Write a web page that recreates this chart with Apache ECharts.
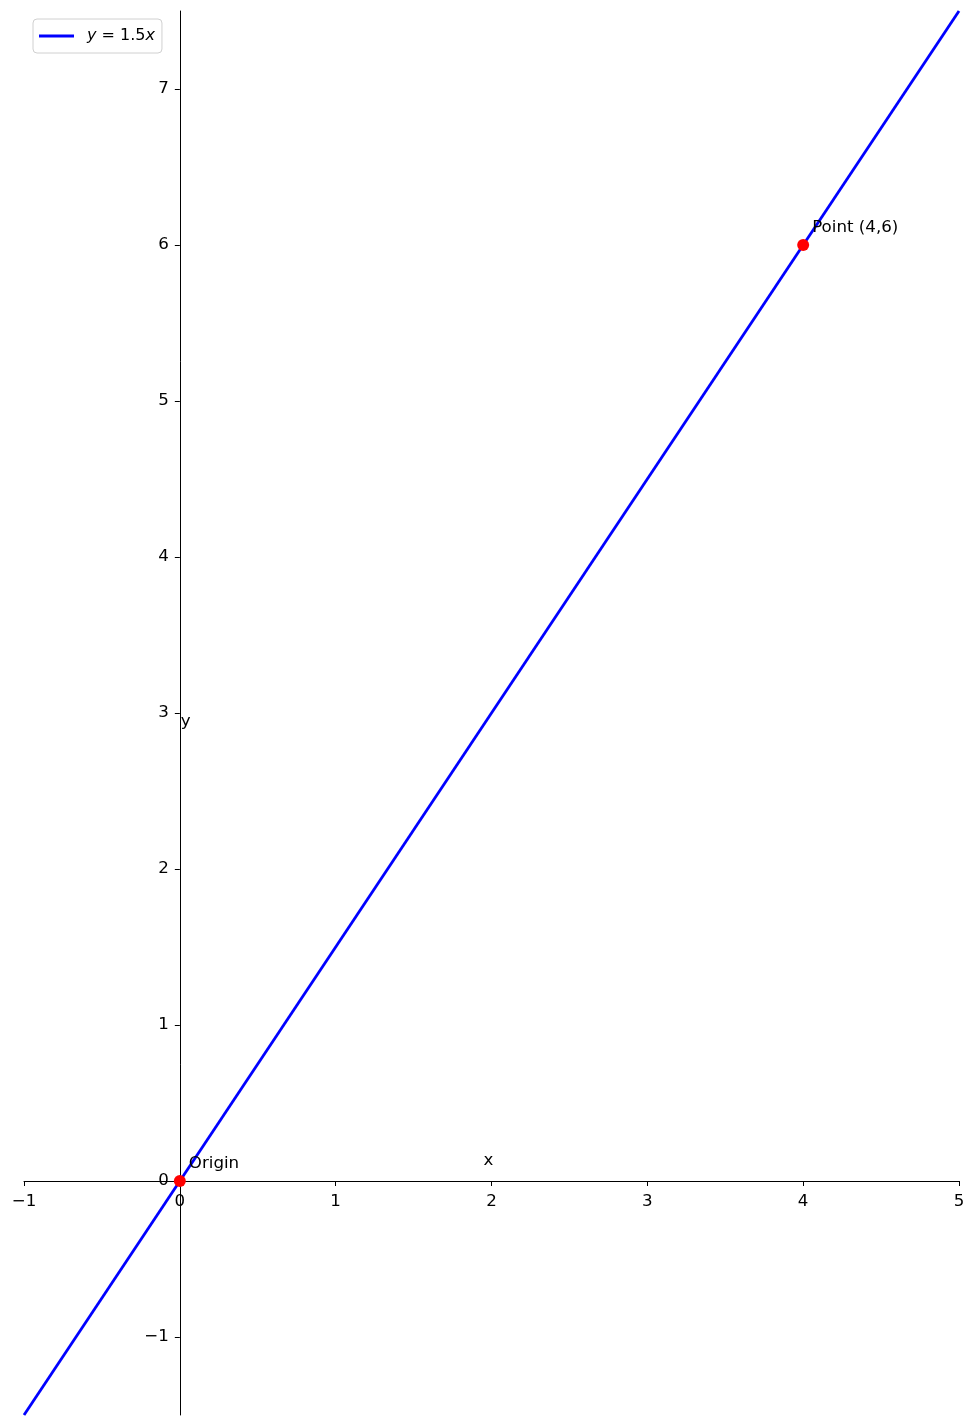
<!DOCTYPE html>
<html>
<head>
<meta charset="utf-8">
<script src="https://cdn.jsdelivr.net/npm/echarts@6/dist/echarts.min.js"></script>
<style>
html,body{margin:0;padding:0;background:#fff;}
#c{width:977px;height:1427px;}
</style>
</head>
<body>
<div id="c"></div>
<script>
// ---- data ----
var lineX = [-1, 5];
var lineY = [-1.5, 7.5];
var pointX = [0, 4];
var pointY = [0, 6];
var pointLabels = ["Origin", "Point (4,6)"];
var xTicks = [-1, 0, 1, 2, 3, 4, 5];
var yTicks = [-1, 0, 1, 2, 3, 4, 5, 6, 7];
var seriesName = "y = 1.5x";
var axisNames = ["x", "y"];
var axisNamePos = [[2, 0], [0, 3]];

var FONT = "DejaVu Sans";
var FS = 16.67;
function fmt(v){ return String(v).replace('-', '\u2212'); }

var chart = echarts.init(document.getElementById('c'), null, {renderer:'canvas'});
var option = {
  animation: false,
  backgroundColor: '#fff',
  textStyle: {fontFamily: FONT},
  grid: {left: 24, right: 18, top: 11, bottom: 12, containLabel: false, outerBoundsMode: 'none'},
  legend: {
    left: 33, top: 19,
    padding: [9, 7, 9, 6],
    borderColor: '#d0d0d0', borderWidth: 1, borderRadius: 4,
    backgroundColor: 'rgba(255,255,255,0.8)',
    itemWidth: 35, itemHeight: 3,
    icon: 'rect',
    data: [{name: seriesName, itemStyle: {color: '#0000ff'}}],
    formatter: function(){ return '{i|y}{n| = 1.5}{i|x}'; },
    textStyle: {
      padding: [0, 0, 0, 8],
      rich: {
        i: {fontFamily: FONT, fontStyle: 'italic', fontSize: 16, color: '#000'},
        n: {fontFamily: FONT, fontSize: 16, color: '#000'}
      }
    }
  },
  xAxis: {
    type: 'value', min: -1, max: 5, interval: 1,
    axisLine: {onZero: false, lineStyle: {color: '#000', width: 1}},
    axisTick: {show: true, length: 5, lineStyle: {color: '#000'}, customValues: xTicks},
    axisLabel: {color: '#000', fontSize: FS, fontFamily: FONT, margin: 12, formatter: fmt, customValues: xTicks},
    splitLine: {show: false}
  },
  yAxis: {
    type: 'value', min: -1.5, max: 7.5,
    axisLine: {show: true, onZero: false, lineStyle: {color: '#000', width: 1}},
    axisTick: {show: true, length: 5, lineStyle: {color: '#000'}, customValues: yTicks},
    axisLabel: {color: '#000', fontSize: FS, fontFamily: FONT, margin: 11, formatter: fmt, customValues: yTicks},
    splitLine: {show: false}
  },
  series: [
    {
      name: seriesName, type: 'line',
      data: lineX.map(function(x, i){ return [x, lineY[i]]; }),
      showSymbol: false, symbol: 'none',
      lineStyle: {color: '#0000ff', width: 2.8},
      itemStyle: {color: '#0000ff'},
      z: 2
    },
    {
      name: 'points', type: 'scatter',
      data: pointX.map(function(x, i){ return {value: [x, pointY[i]], name: pointLabels[i]}; }),
      symbol: 'circle', symbolSize: 12,
      itemStyle: {color: '#ff0000', opacity: 1},
      label: {
        show: true, formatter: '{b}', position: [15, -11],
        align: 'left', verticalAlign: 'middle',
        color: '#000', opacity: 1, fontSize: FS, fontFamily: FONT
      },
      z: 3
    },
    {
      name: 'axisnames', type: 'scatter',
      data: axisNames.map(function(n, i){ return {value: axisNamePos[i], name: n}; }),
      symbolSize: 0,
      itemStyle: {color: 'transparent'},
      label: {
        show: true, formatter: '{b}', color: '#000', opacity: 1, fontSize: FS, fontFamily: FONT,
        align: 'left', verticalAlign: 'middle'
      },
      z: 4
    }
  ]
};
option.series[2].data[0].label = {position: [-8, -20]};
option.series[2].data[1].label = {position: [1, 9]};
chart.setOption(option);

// move spines to zero (like matplotlib set_position('zero'))
var p0 = chart.convertToPixel({gridIndex: 0}, [0, 0]);
var pMin = chart.convertToPixel({gridIndex: 0}, [-1, -1.5]);
chart.setOption({
  xAxis: {offset: -(pMin[1] - p0[1])},
  yAxis: {offset: -(p0[0] - pMin[0])}
});
</script>
</body>
</html>
